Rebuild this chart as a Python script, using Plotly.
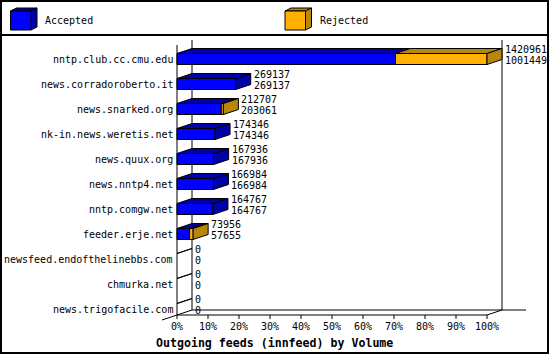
import plotly.graph_objects as go

# ---------------- data ----------------
feeds = ["nntp.club.cc.cmu.edu", "news.corradoroberto.it", "news.snarked.org",
         "nk-in.news.weretis.net", "news.quux.org", "news.nntp4.net",
         "nntp.comgw.net", "feeder.erje.net", "newsfeed.endofthelinebbs.com",
         "chmurka.net", "news.trigofacile.com"]
offered = [1420961, 269137, 212707, 174346, 167936, 166984, 164767, 73956, 0, 0, 0]
accepted = [1001449, 269137, 203061, 174346, 167936, 166984, 164767, 57655, 0, 0, 0]
tick_pcts = [0, 10, 20, 30, 40, 50, 60, 70, 80, 90, 100]
tick_labels = [f"{t}%" for t in tick_pcts]
series_names = ["Accepted", "Rejected"]
title = "Outgoing feeds (innfeed) by Volume"

# ---------------- styling / layout constants ----------------
W, H = 550, 355
X0PX, PXPCT = 177.0, 3.1          # 0% at px 177, 3.1 px per percent
Y0PX, PXROW = 59.0, 25.0          # first row centre, row pitch
DXPX, DYPX = 15.0, 5.0            # 3-D depth offset
HALF = 5.5                        # half height of bar front face (px)

BLUE, BLUE_D = "#0000FF", "#0000A8"
ORNG, ORNG_D = "#FFB000", "#B8860B"
FONT = "DejaVu Sans Mono"
FS = 10

dx = DXPX / PXPCT
dy = DYPX / PXROW
hh = HALF / PXROW


def ypx(p):  # pixel row -> y data
    return (p - Y0PX) / PXROW


def xpx(p):  # pixel col -> x data
    return (p - X0PX) / PXPCT


def px(x):  # paper helpers
    return x / W


def py(y):
    return 1 - y / H


maxv = max(offered)
acc_pct = [a / maxv * 100 for a in accepted]
tot_pct = [o / maxv * 100 for o in offered]

shapes = []
annotations = []


def poly(pts, fill, ref="data"):
    path = "M " + " L ".join(f"{x},{y}" for x, y in pts) + " Z"
    d = dict(type="path", path=path, fillcolor=fill,
             line=dict(color="black", width=1), layer="above")
    if ref == "data":
        d.update(xref="x", yref="y")
    else:
        d.update(xref="paper", yref="paper")
    shapes.append(d)


def line(x0, y0, x1, y1, ref="data", width=1):
    d = dict(type="line", x0=x0, y0=y0, x1=x1, y1=y1,
             line=dict(color="black", width=width), layer="above")
    if ref == "data":
        d.update(xref="x", yref="y")
    else:
        d.update(xref="paper", yref="paper")
    shapes.append(d)


def text(x, y, s, anchor, ref="data", size=FS):
    annotations.append(dict(x=x, y=y, xref="x" if ref == "data" else "paper",
                            yref="y" if ref == "data" else "paper",
                            text=s, showarrow=False, xanchor=anchor,
                            yanchor="middle", borderpad=0, borderwidth=0,
                            font=dict(family=FONT, size=size, color="black")))


# ---------------- walls / floor ----------------
ytf, ybf = ypx(45), ypx(315)       # front wall top / floor
ytb, ybb = ypx(40), ypx(310)       # back wall top / floor
line(0, ytf, 0, ybf)
line(dx, ytb, dx, ybb)
line(100 + dx, ytb, 100 + dx, ybb)
line(dx, ybb, xpx(526), ybb)
line(0, ybf, 100, ybf)
line(xpx(162), ypx(320), dx, ybb)
line(100, ybf, 100 + dx, ybb)
for t in tick_pcts:
    line(t, ybf, t, ypx(319))

# ---------------- bars ----------------
for i in range(len(feeds)):
    a, t = acc_pct[i], tot_pct[i]
    yt, yb = i - hh, i + hh
    # front faces
    if a > 0:
        poly([(0, yt), (a, yt), (a, yb), (0, yb)], BLUE)
    if t > a:
        poly([(a, yt), (t, yt), (t, yb), (a, yb)], ORNG)
    # top faces
    poly([(0, yt), (dx, yt - dy), (a + dx, yt - dy), (a, yt)], BLUE_D)
    if t > a:
        poly([(a, yt), (a + dx, yt - dy), (t + dx, yt - dy), (t, yt)], ORNG_D)
    # side face
    if t > 0:
        poly([(t, yt), (t + dx, yt - dy), (t + dx, yb - dy), (t, yb)],
             ORNG_D if t > a else BLUE_D)
    # value labels
    xl = t + dx + 3 / PXPCT
    text(xl, i - 9.5 / PXROW, str(offered[i]), "left")
    text(xl, i + 1.5 / PXROW, str(accepted[i]), "left")
    # category label
    text(xpx(172.5), i, feeds[i], "right")

# ---------------- tick labels ----------------
for t, lab in zip(tick_pcts, tick_labels):
    text(t, ypx(326.5), lab, "center")

# ---------------- title ----------------
text(px(274.5), py(343), f"<b>{title}</b>", "center", ref="paper", size=11.6)

# ---------------- legend / frame ----------------
shapes.append(dict(type="rect", xref="paper", yref="paper",
                   x0=px(1), y0=py(1), x1=px(548), y1=py(353),
                   line=dict(color="black", width=2), fillcolor="rgba(0,0,0,0)",
                   layer="above"))
line(px(0), py(35), px(549), py(35), ref="paper", width=2)

legend_x = [10.5, 285.0]
legend_cols = [(BLUE, BLUE_D), (ORNG, ORNG_D)]
for name, lx, (cf, cd) in zip(series_names, legend_x, legend_cols):
    fx0, fx1, fy0, fy1 = lx, lx + 20.5, 11, 30
    ddx, ddy = 6, 3
    poly([(px(fx0), py(fy0)), (px(fx0 + ddx), py(fy0 - ddy)),
          (px(fx1 + ddx), py(fy0 - ddy)), (px(fx1), py(fy0))], cd, ref="paper")
    poly([(px(fx1), py(fy0)), (px(fx1 + ddx), py(fy0 - ddy)),
          (px(fx1 + ddx), py(fy1 - ddy)), (px(fx1), py(fy1))], cd, ref="paper")
    poly([(px(fx0), py(fy0)), (px(fx1), py(fy0)), (px(fx1), py(fy1)),
          (px(fx0), py(fy1))], cf, ref="paper")
    text(px(fx1 + ddx + 8), py(20.5), name, "left", ref="paper")

fig = go.Figure()
fig.add_trace(go.Scatter(x=[0], y=[0], mode="markers",
                         marker=dict(opacity=0), hoverinfo="skip",
                         showlegend=False))
fig.update_layout(
    width=W, height=H, margin=dict(l=0, r=0, t=0, b=0),
    paper_bgcolor="white", plot_bgcolor="white", showlegend=False,
    xaxis=dict(range=[xpx(0), xpx(W)], visible=False, fixedrange=True,
               domain=[0, 1]),
    yaxis=dict(range=[ypx(H), ypx(0)], visible=False, fixedrange=True,
               domain=[0, 1]),
    shapes=shapes, annotations=annotations,
)
fig.write_html("out.html")
